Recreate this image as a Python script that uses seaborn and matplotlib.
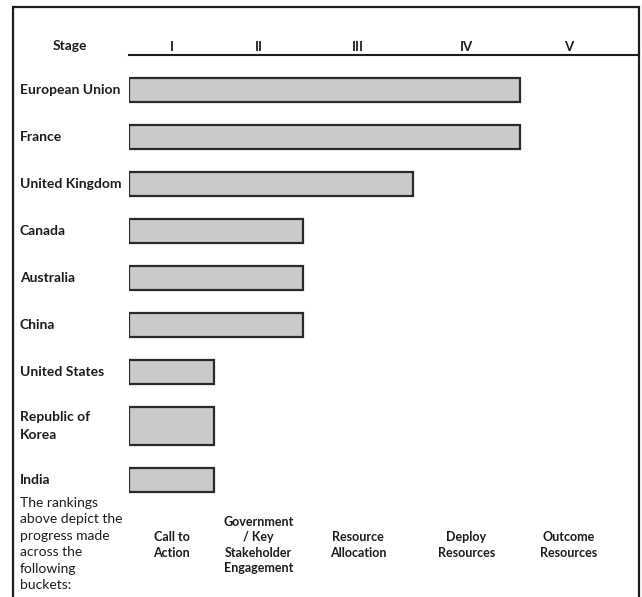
import numpy as np
import pandas as pd
import matplotlib
matplotlib.use("Agg")
import matplotlib.pyplot as plt
import matplotlib.transforms as mtransforms
from matplotlib.patches import Rectangle
import seaborn as sns

# ---- data -------------------------------------------------------------
countries = [
    "European Union",
    "France",
    "United Kingdom",
    "Canada",
    "Australia",
    "China",
    "United States",
    "Republic of\nKorea",
    "India",
]
stages_reached = [4, 4, 3, 2, 2, 2, 1, 1, 1]
stage_numerals = ["I", "II", "III", "IV", "V"]
stage_names = [
    "Call to\nAction",
    "Government\n/ Key\nStakeholder\nEngagement",
    "Resource\nAllocation",
    "Deploy\nResources",
    "Outcome\nResources",
]
footnote = "The rankings\nabove depict the\nprogress made\nacross the\nfollowing\nbuckets:"

df = pd.DataFrame({"country": countries, "stage": stages_reached})

# ---- style ------------------------------------------------------------
sns.set_style("white")
plt.rcParams["font.family"] = ["Lato", "DejaVu Sans"]
ink = "#1c1c1c"

W, H = 642, 597
fig = plt.figure(figsize=(W / 100, H / 100), dpi=100)
ax = fig.add_axes([129 / W, 0, 510 / W, 542 / H])

BAR_W = 0.52
sns.barplot(
    data=df, x="stage", y="country", orient="h", order=countries,
    color="#c9cacc", saturation=1, edgecolor="#2a2a2a", linewidth=1.6,
    width=BAR_W, ax=ax,
)

# stage columns of unequal widths (table layout)
col_edges_stage = [0, 1, 2, 3, 4, 5, 6]
col_edges_px = [0, 85, 174, 284, 391, 489, 587]
fwd_x = lambda v: np.interp(v, col_edges_stage, col_edges_px)
inv_x = lambda p: np.interp(p, col_edges_px, col_edges_stage)
ax.set_xscale("function", functions=(fwd_x, inv_x))
ax.set_xlim(0, 5 + 21 / 98)

# the two-line row is drawn taller than the others
k = countries.index("Republic of\nKorea")
extra = 14 / 47
ys = [-50, k - BAR_W / 2, k + BAR_W / 2, 50]
fs = [-50, k - BAR_W / 2, k + BAR_W / 2 + extra, 50 + extra]
fwd_y = lambda v: np.interp(v, ys, fs)
inv_y = lambda p: np.interp(p, fs, ys)
ax.set_yscale("function", functions=(fwd_y, inv_y))
ax.set_ylim((597 - 90) / 47 - extra, -35 / 47)

# header row: stage numerals along the top rule
ax.xaxis.tick_top()
ax.set_xticks([i + 0.5 for i in range(len(stage_numerals))])
ax.set_xticklabels(stage_numerals, fontsize=9.5, fontweight="bold", color=ink)
ax.tick_params(axis="x", length=0, pad=1.5)
ax.set_xlabel("")
ax.set_ylabel("")

# country labels, left aligned in the first column
ax.set_yticks(range(len(countries)))
ax.set_yticklabels(countries, fontsize=10, fontweight="bold", color=ink)
ax.tick_params(axis="y", length=0, pad=78.5)
for lab in ax.get_yticklabels():
    lab.set_horizontalalignment("left")
    lab.set_verticalalignment("center")
    lab.set_linespacing(1.6)

for side in ["left", "right", "bottom"]:
    ax.spines[side].set_visible(False)
ax.spines["top"].set_linewidth(1.5)
ax.spines["top"].set_color(ink)

# stage names under the bars
names_tf = mtransforms.blended_transform_factory(ax.transData, fig.transFigure)
for i, name in enumerate(stage_names):
    ax.text(i + 0.5, 1 - 545 / H, name, transform=names_tf,
            ha="center", va="center", fontsize=9, fontweight="bold",
            color=ink, linespacing=1.32)

fig.text(70 / W, 1 - 46 / H, "Stage", ha="center", va="center",
         fontsize=10, fontweight="bold", color=ink)
fig.text(20 / W, 1 - 544 / H, footnote, ha="left", va="center",
         fontsize=10, color=ink, linespacing=1.45)

# outer frame (open at the bottom)
fig.add_artist(Rectangle((13 / W, -0.05), 626 / W, 1.05 - 7 / H,
                         transform=fig.transFigure, fill=False,
                         edgecolor=ink, linewidth=1.6))

fig.savefig("out.png", dpi=100)
